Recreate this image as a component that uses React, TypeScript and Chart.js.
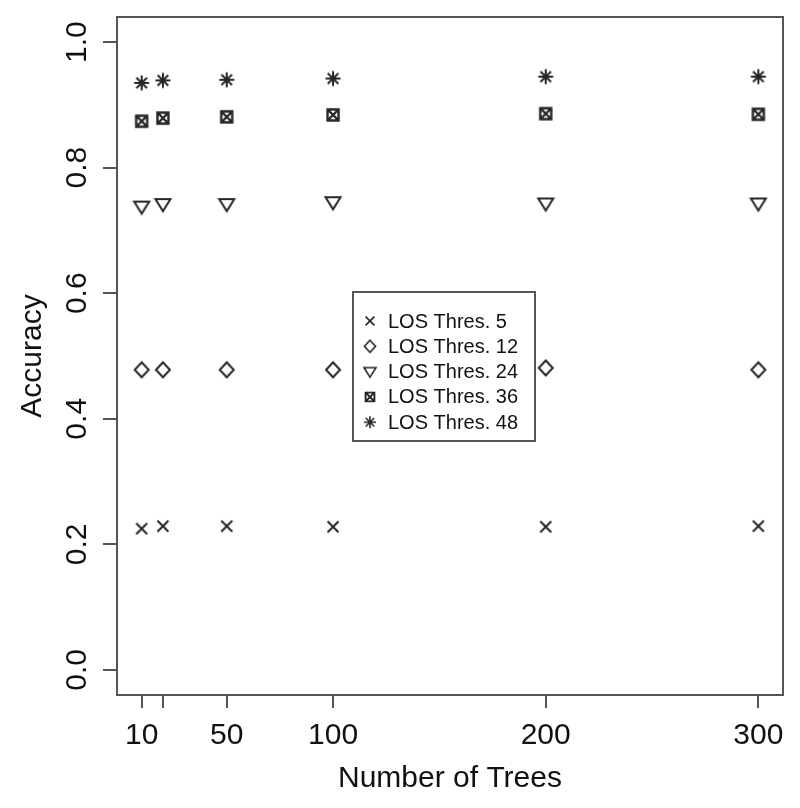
import React, { useEffect, useRef } from 'react';
import { Chart, registerables } from 'chart.js';

Chart.register(...registerables);

const trees = [10, 20, 50, 100, 200, 300];
const xTickLabels = ['10', '', '50', '100', '200', '300'];
const yTicks = [0, 0.2, 0.4, 0.6, 0.8, 1.0];
const yTickLabels = ['0.0', '0.2', '0.4', '0.6', '0.8', '1.0'];
const seriesLabels = ['LOS Thres. 5', 'LOS Thres. 12', 'LOS Thres. 24', 'LOS Thres. 36', 'LOS Thres. 48'];
const thres5 = [0.225, 0.229, 0.229, 0.228, 0.228, 0.229];
const thres12 = [0.478, 0.478, 0.478, 0.478, 0.481, 0.478];
const thres24 = [0.738, 0.742, 0.742, 0.745, 0.743, 0.743];
const thres36 = [0.874, 0.879, 0.881, 0.884, 0.886, 0.885];
const thres48 = [0.935, 0.939, 0.940, 0.942, 0.945, 0.945];
const symbolKinds = ['cross', 'diamond', 'triangle', 'boxcross', 'star'];

const FONT = '"Liberation Sans", Arial, sans-serif';
const INK = '#262626';
const TEXT = '#111111';
const AXIS = '#555555';

function makeSymbol(kind: string, scale: number): HTMLCanvasElement {
  const size = Math.ceil(22 * scale);
  const c = document.createElement('canvas');
  c.width = size;
  c.height = size;
  const ctx = c.getContext('2d')!;
  ctx.translate(size / 2, size / 2);
  ctx.scale(scale, scale);
  ctx.strokeStyle = INK;
  ctx.lineWidth = 2;
  ctx.lineCap = 'butt';
  ctx.beginPath();
  if (kind === 'cross') {
    const s = 5.5;
    ctx.moveTo(-s, -s); ctx.lineTo(s, s);
    ctx.moveTo(-s, s); ctx.lineTo(s, -s);
  } else if (kind === 'diamond') {
    ctx.moveTo(0, -7.5); ctx.lineTo(7, 0); ctx.lineTo(0, 7.5); ctx.lineTo(-7, 0); ctx.closePath();
  } else if (kind === 'triangle') {
    ctx.moveTo(-7.5, -5); ctx.lineTo(7.5, -5); ctx.lineTo(0, 7); ctx.closePath();
  } else if (kind === 'boxcross') {
    ctx.lineWidth = 2.4;
    ctx.rect(-5.5, -5.5, 11, 11);
    ctx.moveTo(-5.5, -5.5); ctx.lineTo(5.5, 5.5);
    ctx.moveTo(-5.5, 5.5); ctx.lineTo(5.5, -5.5);
  } else if (kind === 'star') {
    const s = 7.5;
    const d = 5.3;
    ctx.moveTo(-s, 0); ctx.lineTo(s, 0);
    ctx.moveTo(0, -s); ctx.lineTo(0, s);
    ctx.moveTo(-d, -d); ctx.lineTo(d, d);
    ctx.moveTo(-d, d); ctx.lineTo(d, -d);
  }
  ctx.stroke();
  return c;
}

export default function App() {
  const ref = useRef<HTMLCanvasElement | null>(null);

  useEffect(() => {
    if (!ref.current) return;
    const symbols = symbolKinds.map((k) => makeSymbol(k, 1));
    const legendSymbols = symbolKinds.map((k) => makeSymbol(k, 0.8));
    const allSeries = [thres5, thres12, thres24, thres36, thres48];

    const boxPlugin = {
      id: 'rbox',
      afterDatasetsDraw(chart: any) {
        const { ctx, chartArea: ca } = chart;
        ctx.save();
        ctx.strokeStyle = AXIS;
        ctx.lineWidth = 2;
        ctx.strokeRect(ca.left, ca.top, ca.right - ca.left, ca.bottom - ca.top);

        // legend box
        const lx = ca.left + 236;
        const ly = ca.top + 275;
        const lw = 182;
        const lh = 149;
        ctx.fillStyle = '#ffffff';
        ctx.fillRect(lx, ly, lw, lh);
        ctx.strokeRect(lx, ly, lw, lh);
        ctx.font = `20px ${FONT}`;
        ctx.fillStyle = TEXT;
        ctx.textBaseline = 'middle';
        ctx.textAlign = 'left';
        chart.data.datasets.forEach((ds: any, i: number) => {
          const cy = ly + 29 + i * 25.3;
          const sym = legendSymbols[i];
          ctx.drawImage(sym, lx + 17 - sym.width / 2, cy - sym.height / 2);
          ctx.fillText(ds.label, lx + 35, cy + 1);
        });
        ctx.restore();
      },
    };

    const chart = new Chart(ref.current, {
      type: 'scatter',
      data: {
        datasets: allSeries.map((vals, i) => ({
          label: seriesLabels[i],
          data: trees.map((t, j) => ({ x: t, y: vals[j] })),
          pointStyle: symbols[i] as any,
          pointRadius: 8,
          borderColor: INK,
          backgroundColor: 'transparent',
          showLine: false,
        })),
      },
      options: {
        animation: false,
        responsive: true,
        maintainAspectRatio: false,
        layout: { padding: { left: 0, top: 17, right: 17, bottom: 0 } },
        plugins: { legend: { display: false }, tooltip: { enabled: false } },
        scales: {
          x: {
            type: 'linear',
            min: -1.6,
            max: 311.6,
            afterBuildTicks: (scale: any) => {
              scale.ticks = trees.map((v) => ({ value: v }));
            },
            afterFit: (scale: any) => {
              scale.height = 113;
              scale.paddingLeft = 0;
              scale.paddingRight = 0;
            },
            ticks: {
              autoSkip: false,
              maxRotation: 0,
              minRotation: 0,
              padding: 10,
              color: TEXT,
              font: { family: FONT, size: 30 },
              callback: (value: any) => {
                const idx = trees.indexOf(Number(value));
                return idx >= 0 ? xTickLabels[idx] : '';
              },
            },
            grid: { drawOnChartArea: false, drawTicks: true, tickLength: 13, color: AXIS, lineWidth: 2 },
            border: { display: true, color: AXIS, width: 2 },
            title: {
              display: true,
              text: 'Number of Trees',
              color: TEXT,
              font: { family: FONT, size: 30 },
              padding: { top: 0, bottom: 11 },
            },
          },
          y: {
            type: 'linear',
            min: -0.04,
            max: 1.04,
            afterBuildTicks: (scale: any) => {
              scale.ticks = yTicks.map((v) => ({ value: v }));
            },
            afterFit: (scale: any) => {
              scale.width = 117;
              scale.paddingTop = 0;
              scale.paddingBottom = 0;
            },
            ticks: {
              autoSkip: false,
              minRotation: 90,
              maxRotation: 90,
              crossAlign: 'center',
              padding: 4,
              color: TEXT,
              font: { family: FONT, size: 30 },
              callback: (value: any) => {
                const idx = yTicks.findIndex((t) => Math.abs(t - Number(value)) < 1e-9);
                return idx >= 0 ? yTickLabels[idx] : '';
              },
            },
            grid: { drawOnChartArea: false, drawTicks: true, tickLength: 14, color: AXIS, lineWidth: 2 },
            border: { display: true, color: AXIS, width: 2 },
            title: {
              display: true,
              text: 'Accuracy',
              color: TEXT,
              font: { family: FONT, size: 30 },
              padding: { top: 15, bottom: 0 },
            },
          },
        },
      },
      plugins: [boxPlugin],
    });

    return () => chart.destroy();
  }, []);

  return (
    <div style={{ position: 'fixed', left: 0, top: 0, width: 800, height: 808, background: '#fff' }}>
      <canvas ref={ref} />
    </div>
  );
}
